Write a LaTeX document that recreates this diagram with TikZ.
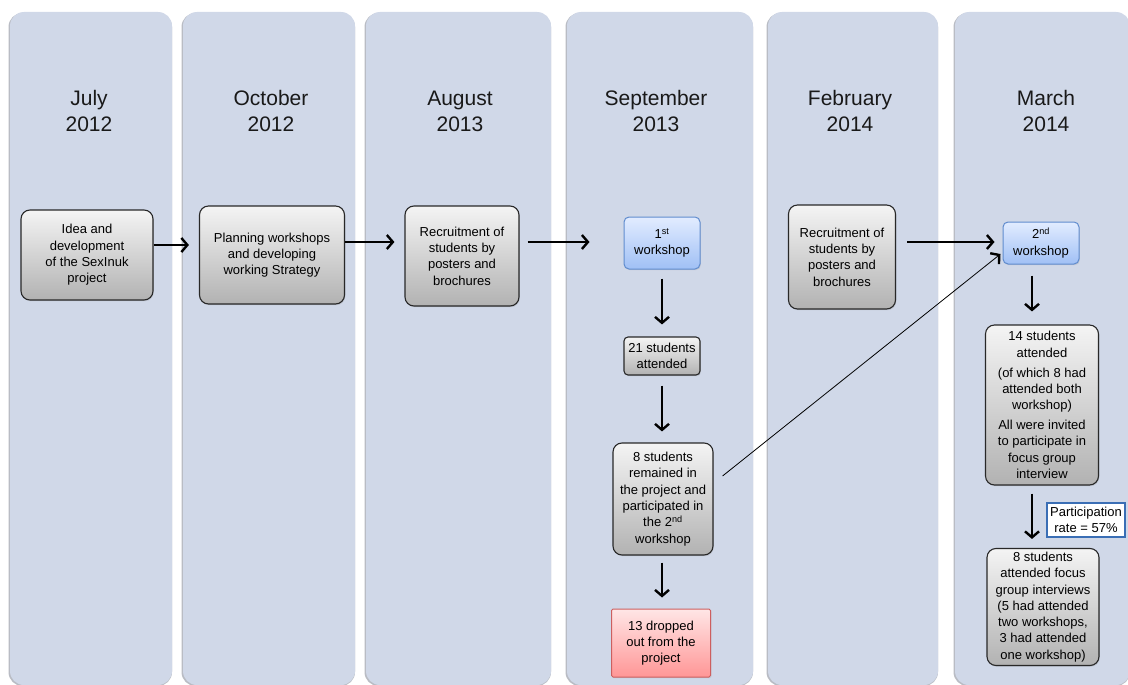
\documentclass[tikz,border=0pt]{standalone}
\usepackage{fontspec}
\setmainfont{Liberation Sans}
\usetikzlibrary{arrows.meta,shadows,calc}
\definecolor{panel}{RGB}{208,216,232}
\definecolor{panelsh}{RGB}{185,188,196}
\definecolor{boxtop}{RGB}{244,244,244}
\definecolor{boxbot}{RGB}{178,178,178}
\definecolor{boxline}{RGB}{40,40,40}
\definecolor{bluetop}{RGB}{226,236,255}
\definecolor{bluebot}{RGB}{160,192,245}
\definecolor{blueline}{RGB}{96,140,206}
\definecolor{redtop}{RGB}{255,230,230}
\definecolor{redbot}{RGB}{255,150,150}
\definecolor{redline}{RGB}{205,95,95}
\definecolor{partline}{RGB}{58,110,181}
\tikzset{
  panelbox/.style={fill=panel, rounded corners=14pt, draw=none},
  title/.style={font=\fontsize{21}{26}\selectfont, align=center, text=black!90},
  graybox/.style={draw=boxline, line width=1.1pt, rounded corners=9pt, top color=boxtop, bottom color=boxbot,
     align=center, font=\fontsize{13}{16.3}\selectfont, inner sep=2pt,
     drop shadow={opacity=0.25, shadow xshift=0.8pt, shadow yshift=-1.2pt}},
  smallgray/.style={graybox, rounded corners=4pt},
  bluebox/.style={draw=blueline, line width=1pt, rounded corners=5pt, top color=bluetop, bottom color=bluebot,
     align=center, font=\fontsize{13}{16.3}\selectfont, inner sep=2pt,
     drop shadow={opacity=0.2, shadow xshift=0.8pt, shadow yshift=-1.2pt}},
  redbox/.style={draw=redline, line width=1pt, rounded corners=1.5pt, top color=redtop, bottom color=redbot,
     align=center, font=\fontsize{13}{16.3}\selectfont, inner sep=2pt,
     drop shadow={opacity=0.2, shadow xshift=0.8pt, shadow yshift=-1.2pt}},
  partbox/.style={draw=partline, line width=2.6pt, fill=white, align=center,
     font=\fontsize{13}{16}\selectfont, inner sep=1pt},
  arr/.style={line width=1.2pt, -{Straight Barb[length=6pt,width=14pt,line width=2.4pt]}},
  thinarr/.style={line width=0.8pt, -{Straight Barb[length=6pt,width=14pt,line width=2.4pt]}}
}
\begin{document}
\begin{tikzpicture}[x=1pt,y=-1pt]
\useasboundingbox (0,0) rectangle (1128,685);
\fill[white] (0,0) rectangle (1128,685);
% panels
\foreach \a/\b in {10/172,183/355,366/551,567/753,768/938,955/1130}{
  \fill[panelsh, rounded corners=14pt] (\a-1.5,13) rectangle (\b,686);
  \fill[panel, rounded corners=14pt] (\a,12) rectangle (\b,685);
}
% titles
\node[title] (t1) at (89,111) {July\\2012};
\node[title] (t2) at (271,111) {October\\2012};
\node[title] (t3) at (460,111) {August\\2013};
\node[title] (t4) at (656,111) {September\\2013};
\node[title] (t5) at (850,111) {February\\2014};
\node[title] (t6) at (1046,111) {March\\2014};
% boxes
\node[graybox, minimum width=132pt, minimum height=90pt] (b1) at (87,255) {Idea and\\development\\of the SexInuk\\project};
\node[graybox, minimum width=145pt, minimum height=98pt] (b2) at (272,255) {Planning workshops\\and developing\\working Strategy};
\node[graybox, minimum width=114pt, minimum height=100pt] (b3) at (462,256) {Recruitment of\\students by\\posters and\\brochures};
\node[bluebox, minimum width=76pt, minimum height=52pt] (w1) at (662,243) {1\textsuperscript{st}\\workshop};
\node[smallgray, minimum width=76pt, minimum height=38pt] (s21) at (662,356) {21 students\\attended};
\node[graybox, minimum width=100pt, minimum height=112pt] (s8) at (663,499) {8 students\\remained in\\the project and\\participated in\\the 2\textsuperscript{nd}\\workshop};
\node[redbox, minimum width=99pt, minimum height=68pt] (d13) at (661,643) {13 dropped\\out from the\\project};
\node[graybox, minimum width=107pt, minimum height=104pt] (feb) at (842,257) {Recruitment of\\students by\\posters and\\brochures};
\node[bluebox, minimum width=76pt, minimum height=42pt] (w2) at (1041,243) {2\textsuperscript{nd}\\workshop};
\node[graybox, minimum width=113pt, minimum height=160pt] (s14) at (1042,405) {14 students\\attended\\[3.5pt](of which 8 had\\attended both\\workshop)\\[3.5pt]All were invited\\to participate in\\focus group\\interview};
\node[partbox, minimum width=78pt, minimum height=34pt] (part) at (1086,520) {Participation\\rate = 57\%};
\node[graybox, minimum width=112pt, minimum height=117pt] (f8) at (1043,607) {8 students\\attended focus\\group interviews\\(5 had attended\\two workshops,\\3 had attended\\one workshop)};
% connectors
\draw[arr, shorten >=10pt] (b1.east |- 0,245) -- (b2.west |- 0,245);
\draw[arr, shorten >=10pt] (b2.east |- 0,242) -- (b3.west |- 0,242);
\draw[arr, shorten <=8pt, shorten >=34pt] (b3.east |- 0,242) -- (w1.west |- 0,242);
\draw[arr, shorten <=9pt, shorten >=12pt] (w1.south) -- (s21.north);
\draw[arr, shorten <=10pt, shorten >=11pt] (s21.south) -- (s21.south |- s8.north);
\draw[arr, shorten <=7pt, shorten >=11pt] (s21.south |- s8.south) -- (s21.south |- d13.north);
\draw[arr, shorten <=11pt, shorten >=8pt] (feb.east |- 0,242) -- (w2.west |- 0,242);
\draw[thinarr] ($(s8.east)+(9,-23)$) -- ($(w2.west)+(-2,11)$);
\draw[arr, shorten <=11pt, shorten >=13pt] (1032,0 |- w2.south) -- (1032,0 |- s14.north);
\draw[arr, shorten <=8pt, shorten >=9pt] (1032,0 |- s14.south) -- (1032,0 |- f8.north);
\end{tikzpicture}
\end{document}
